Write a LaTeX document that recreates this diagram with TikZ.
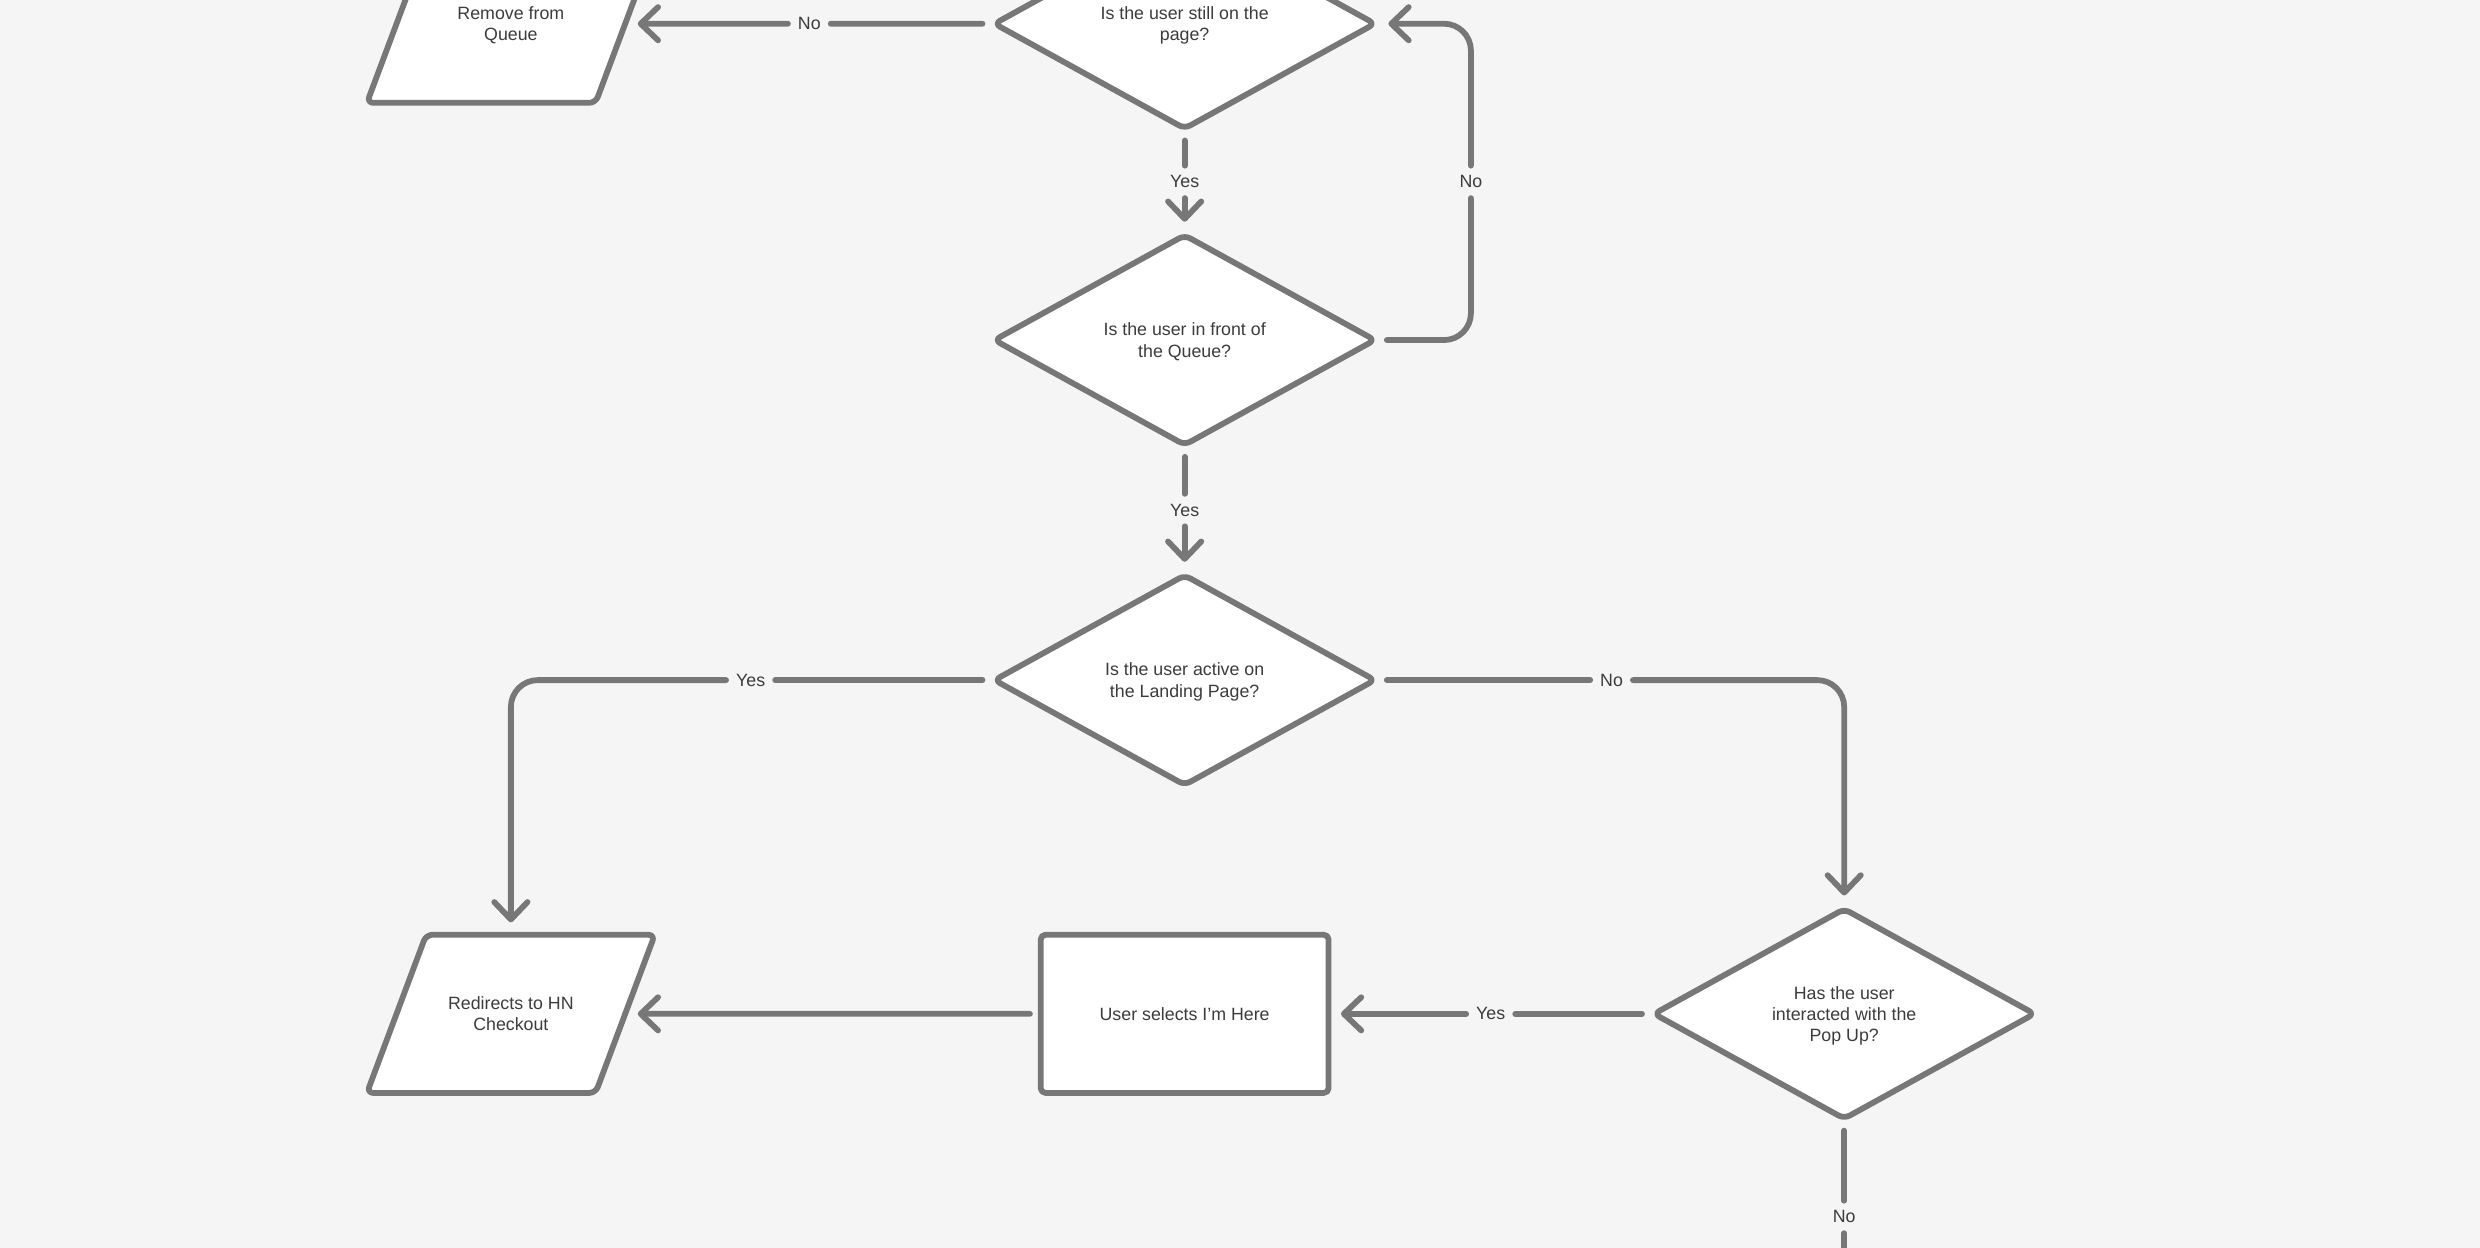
\documentclass[tikz,border=0pt]{standalone}
\usepackage{fontspec}
\setmainfont{Liberation Sans}
\usetikzlibrary{shapes.geometric,arrows.meta}
\definecolor{pagebg}{HTML}{F5F5F5}
\definecolor{edgegray}{HTML}{777777}
\definecolor{textgray}{HTML}{3C3C3C}
\tikzset{
   shapeline/.style={draw=edgegray, fill=white, line width=5.2pt, line join=round, text=textgray,
                 font=\fontsize{16}{19}\selectfont, align=center, text depth=0pt},
   decision/.style={shapeline, diamond, aspect=1.8, inner sep=0pt,
                 minimum width=121mm, minimum height=67mm, rounded corners=2mm},
   io/.style={shapeline, trapezium, trapezium left angle=69, trapezium right angle=111,
                 inner xsep=2mm, inner ysep=19mm, trapezium stretches body,
                 minimum width=91mm, minimum height=50mm, rounded corners=2mm},
   process/.style={shapeline, rectangle, minimum width=91mm, minimum height=50mm, rounded corners=1.5mm},
   line/.style={draw=edgegray, line width=5.2pt, line cap=round, rounded corners=8.5mm,
                 shorten <=2.5mm},
   tolbl/.style={line, shorten >=2.5mm},
   flow/.style={line, -{Straight Barb[length=5.5mm, width=10.5mm, line cap=round, line join=round]},
                 shorten >=3mm},
   lbl/.style={text=textgray, inner sep=0.6mm, font=\fontsize{16}{19}\selectfont}
}
\begin{document}
\begin{tikzpicture}[x=0.5mm,y=-0.5mm]
\fill[pagebg] (0,0) rectangle (1568,789);
\useasboundingbox (0,0) rectangle (1568,789);
\node[decision] (still) at (749,15) {Is the user still on the\\page?};
\node[decision] (front) at (749,215) {Is the user in front of\\the Queue?};
\node[decision] (active) at (749,430) {Is the user active on\\the Landing Page?};
\node[decision] (popup) at (1166,641) {Has the user\\interacted with the\\Pop Up?};
\node[io] (remove) at (323,15) {Remove from\\Queue};
\node[io] (redirect) at (323,641) {Redirects to HN\\Checkout};
\node[process] (here) at (749,641) {User selects I'm Here};
\coordinate (belowB) at (1166,829);
\path (still.west) -- node[lbl] (noRemove) {No} (remove.east);
\path (still.south) -- node[lbl] (yesFront) {Yes} (front.north);
\node[lbl] (noStill) at (930,115) {No};
\path (front.south) -- node[lbl] (yesActive) {Yes} (active.north);
\path (active.west) -| node[lbl, pos=0.25] (yesRedirect) {Yes} (redirect.north);
\path (active.east) -| node[lbl, pos=0.25] (noPopup) {No} (popup.north);
\path (popup.west) -- node[lbl] (yesHere) {Yes} (here.east);
\path (popup.south) -- node[lbl] (noBelow) {No} (belowB);
\draw[tolbl] (still.west) -- (noRemove);
\draw[flow] (noRemove) -- (remove.east);
\draw[tolbl] (still.south) -- (yesFront);
\draw[flow] (yesFront) -- (front.north);
\draw[tolbl] (front.east) -| (noStill);
\draw[flow] (noStill) |- (still.east);
\draw[tolbl] (front.south) -- (yesActive);
\draw[flow] (yesActive) -- (active.north);
\draw[tolbl] (active.west) -- (yesRedirect);
\draw[flow] (yesRedirect) -| (redirect.north);
\draw[tolbl] (active.east) -- (noPopup);
\draw[flow] (noPopup) -| (popup.north);
\draw[tolbl] (popup.west) -- (yesHere);
\draw[flow] (yesHere) -- (here.east);
\draw[flow] (here.west) -- (redirect.east);
\draw[tolbl] (popup.south) -- (noBelow);
\draw[line] (noBelow) -- (belowB);
\end{tikzpicture}
\end{document}
